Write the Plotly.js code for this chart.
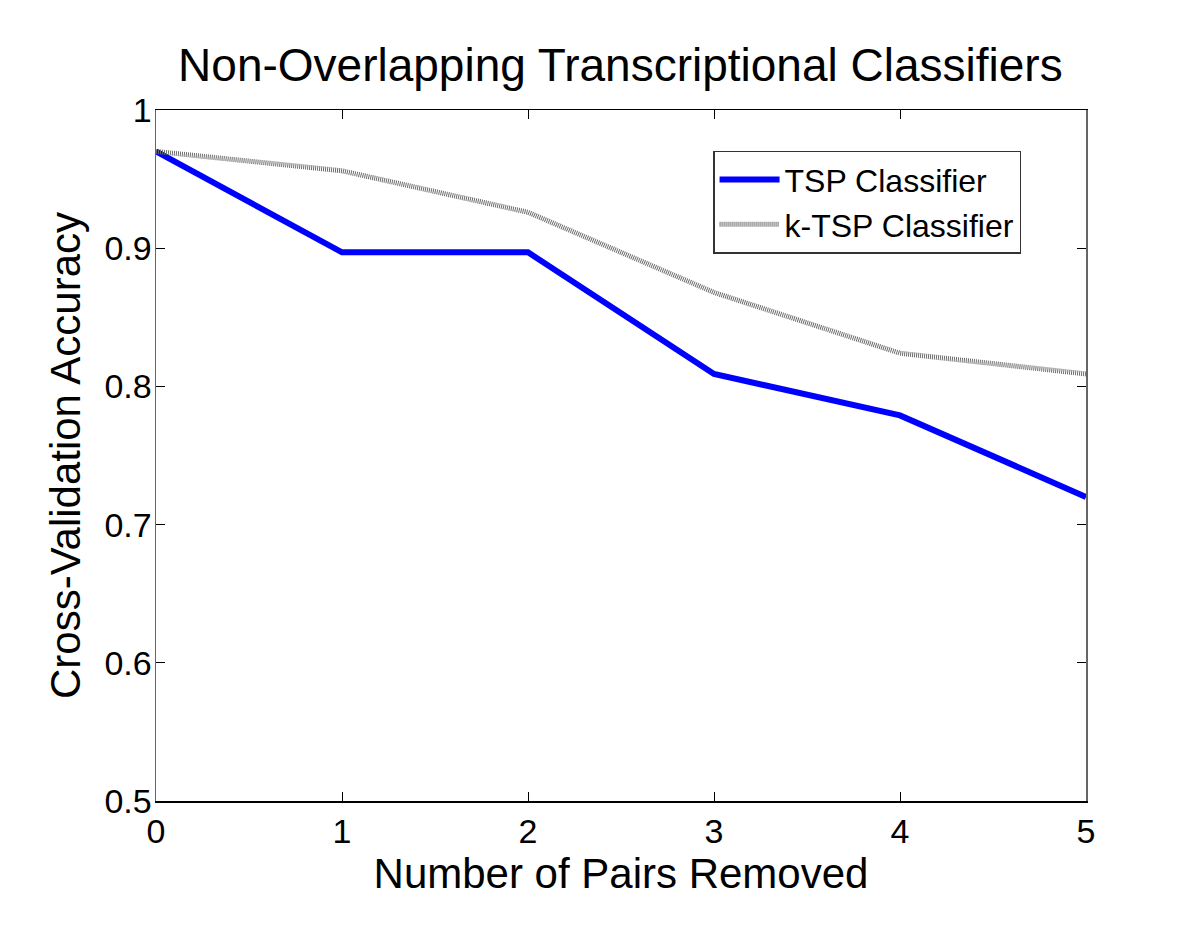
<!DOCTYPE html>
<html>
<head>
<meta charset="utf-8">
<script src="https://cdn.plot.ly/plotly-3.0.1.min.js"></script>
<style>html,body{margin:0;padding:0;background:#fff;}#chart{width:1200px;height:931px;}</style>
</head>
<body>
<div id="chart"></div>
<script>
const pairsRemoved = [0, 1, 2, 3, 4, 5];
const tspAccuracy = [0.970, 0.897, 0.897, 0.809, 0.779, 0.720];
const ktspAccuracy = [0.970, 0.956, 0.926, 0.868, 0.824, 0.809];
const seriesNames = ['TSP Classifier', 'k-TSP Classifier'];
const yTicks = [0.5, 0.6, 0.7, 0.8, 0.9, 1];
const yTickText = ['0.5', '0.6', '0.7', '0.8', '0.9', '1'];

const font = '"Liberation Sans", Arial, sans-serif';
const traces = [
  {x: pairsRemoved, y: tspAccuracy, name: seriesNames[0], mode: 'lines', type: 'scatter',
   line: {color: '#0000ff', width: 6}},
  {x: pairsRemoved, y: ktspAccuracy, name: seriesNames[1], mode: 'lines', type: 'scatter',
   line: {color: '#6a6b6b', width: 5, dash: '1px,1px'}}
];
const layout = {
  width: 1200, height: 931,
  margin: {l: 156, r: 114, t: 110, b: 130},
  paper_bgcolor: '#fff', plot_bgcolor: '#fff',
  font: {family: font, color: '#000', size: 34},
  title: {text: 'Non-Overlapping Transcriptional Classifiers', font: {family: font, size: 46, color: '#000'},
          x: 0.517, xanchor: 'center', y: 0.93, yanchor: 'middle'},
  xaxis: {range: [0, 5], tickvals: pairsRemoved, ticktext: pairsRemoved.map(String),
          ticks: 'inside', ticklen: 9, tickcolor: '#000', showline: true, linecolor: '#000', linewidth: 1.5,
          mirror: 'ticks', showgrid: false, zeroline: false, tickfont: {size: 34},
          title: {text: 'Number of Pairs Removed', font: {size: 42}, standoff: 0}},
  yaxis: {range: [0.5, 1], tickvals: yTicks, ticktext: yTickText,
          ticks: 'inside', ticklen: 9, tickcolor: '#000', showline: true, linecolor: '#666', linewidth: 1.5,
          mirror: 'ticks', showgrid: false, zeroline: false, tickfont: {size: 34}, ticklabelstandoff: -4,
          title: {text: 'Cross-Validation Accuracy', font: {size: 42}, standoff: 10}},
  showlegend: true,
  legend: {x: 0.599, xanchor: 'left', y: 0.941, yanchor: 'top', bgcolor: '#fff', bordercolor: '#333', borderwidth: 1.5,
           font: {size: 32}, tracegroupgap: 0, itemwidth: 60}
};
Plotly.newPlot('chart', traces, layout, {displayModeBar: false, staticPlot: true});
</script>
</body>
</html>
